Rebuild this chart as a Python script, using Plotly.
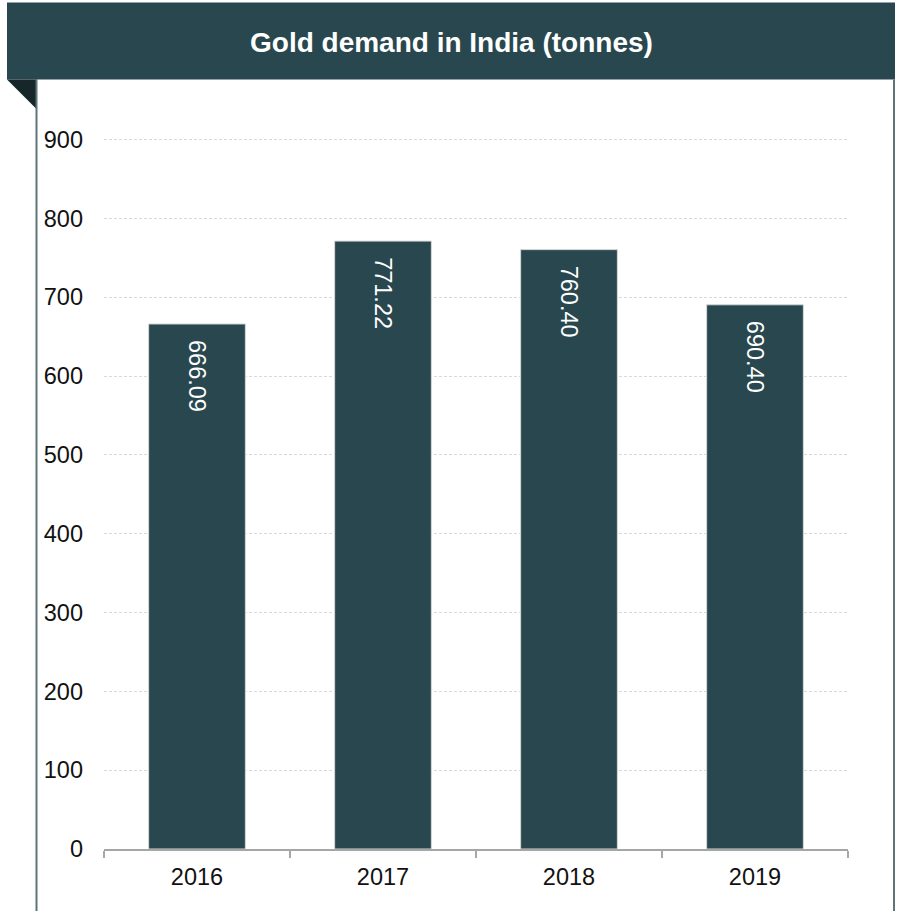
import plotly.graph_objects as go

years = ["2016", "2017", "2018", "2019"]
demand = [666.09, 771.22, 760.40, 690.40]
labels = ["666.09", "771.22", "760.40", "690.40"]
y_ticks = [0, 100, 200, 300, 400, 500, 600, 700, 800, 900]

W, H = 897, 911
Y_MAX = 902
ZERO_PX, TOP_PX = 849, 140
unit = (ZERO_PX - TOP_PX) / 900
ML, MR = 104, 49
MB = H - ZERO_PX
MT = ZERO_PX - Y_MAX * unit
PW = W - ML - MR
PH = H - MT - MB

def px(x):
    return (x - ML) / PW

def py(y):
    return (H - MB - y) / PH

HEAD = "#29474E"
FOLD = "#172629"
BORDER = "#5E7479"
FONT = "Liberation Sans, Arial, sans-serif"

fig = go.Figure(go.Bar(
    x=years, y=demand, text=labels, texttemplate="  %{text}",
    textposition="inside", insidetextanchor="end", textangle=90,
    textfont=dict(color="white", size=23.5, family=FONT),
    marker=dict(color=HEAD, line=dict(color="#d9d9d9", width=1)),
    width=0.52, hoverinfo="skip",
))

shapes = [
    dict(type="rect", xref="paper", yref="paper", x0=px(7), x1=px(895), y0=py(80), y1=py(3),
         fillcolor=HEAD, line=dict(width=0), layer="above"),
    dict(type="path", xref="paper", yref="paper",
         path=f"M {px(7)} {py(80)} L {px(37)} {py(80)} L {px(37)} {py(110)} Z",
         fillcolor=FOLD, line=dict(width=0), layer="above"),
    dict(type="line", xref="paper", yref="paper", x0=px(36.5), x1=px(36.5), y0=py(80), y1=py(912),
         line=dict(color=BORDER, width=2)),
    dict(type="line", xref="paper", yref="paper", x0=px(894), x1=px(894), y0=py(80), y1=py(912),
         line=dict(color=BORDER, width=2)),
]

fig.update_layout(
    width=W, height=H,
    margin=dict(l=ML, r=MR, t=MT, b=MB, pad=0),
    paper_bgcolor="white", plot_bgcolor="white",
    showlegend=False,
    shapes=shapes,
    annotations=[dict(text="<b>Gold demand in India (tonnes)</b>", xref="paper", yref="paper",
                      x=px(451), y=py(43), xanchor="center", yanchor="middle", showarrow=False,
                      font=dict(color="white", size=28, family=FONT))],
    font=dict(family=FONT, size=23, color="#111111"),
    xaxis=dict(type="category", range=[-0.5, 3.5], showgrid=False,
               showline=True, linecolor="#a6a6a6", linewidth=2,
               ticks="outside", tickson="boundaries", ticklen=7, tickcolor="#a6a6a6", tickwidth=2,
               tickfont=dict(size=23.5, color="#111111"), ticklabelstandoff=6),
    yaxis=dict(range=[0, Y_MAX], tickvals=y_ticks, showline=False, ticks="",
               showgrid=True, gridcolor="#d9d9d9", griddash="3px,2px", gridwidth=1,
               zeroline=False, tickfont=dict(size=23.5, color="#111111"), ticklabelstandoff=20),
)

fig.write_html("out.html", config={"displayModeBar": False},
               post_script="document.body.style.margin='0';document.body.style.padding='0';")
